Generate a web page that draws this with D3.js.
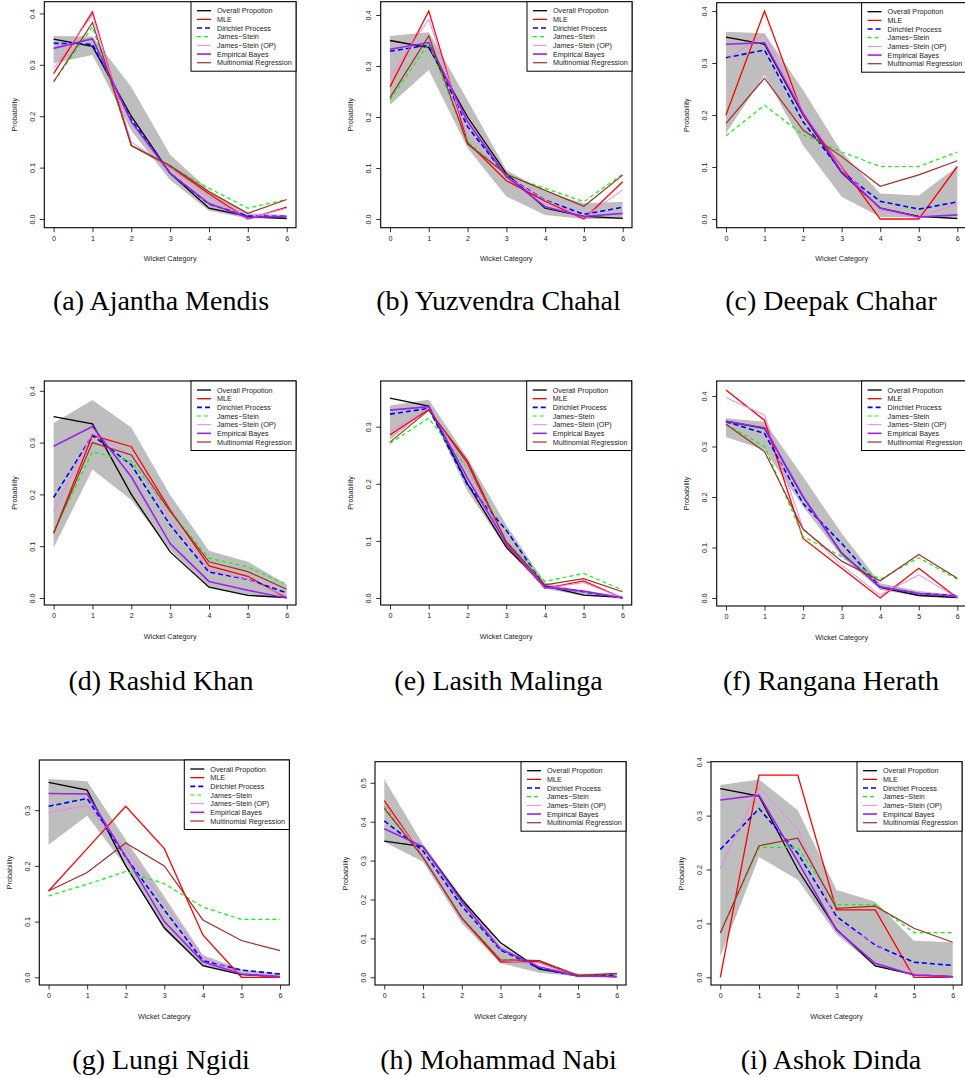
<!DOCTYPE html>
<html>
<head>
<meta charset="utf-8">
<script src="https://cdn.jsdelivr.net/npm/d3@7"></script>
<style>
  html, body { margin: 0; padding: 0; background: #fff; }
  svg { display: block; }
  text { font-family: "Liberation Sans", Arial, Helvetica, sans-serif; }
  .caption { font-family: "Liberation Serif", "Times New Roman", serif; }
</style>
</head>
<body>
<svg id="chart" width="965" height="1078"></svg>
<script>
// ---------------- data ----------------
const categories = [0, 1, 2, 3, 4, 5, 6];
const players = ["(a) Ajantha Mendis", "(b) Yuzvendra Chahal", "(c) Deepak Chahar",
                 "(d) Rashid Khan", "(e) Lasith Malinga", "(f) Rangana Herath",
                 "(g) Lungi Ngidi", "(h) Mohammad Nabi", "(i) Ashok Dinda"];
const seriesNames = ["Overall Propotion", "MLE", "Dirichlet Process", "James\u2212Stein",
                     "James\u2212Stein (OP)", "Empirical Bayes", "Multinomial Regression"];
const xTickLabels = ["0", "1", "2", "3", "4", "5", "6"];
const yTicks = [
  [0, 0.1, 0.2, 0.3, 0.4], [0, 0.1, 0.2, 0.3, 0.4], [0, 0.1, 0.2, 0.3, 0.4],
  [0, 0.1, 0.2, 0.3, 0.4], [0, 0.1, 0.2, 0.3], [0, 0.1, 0.2, 0.3, 0.4],
  [0, 0.1, 0.2, 0.3], [0, 0.1, 0.2, 0.3, 0.4, 0.5], [0, 0.1, 0.2, 0.3, 0.4]
];

const overall = [0.350, 0.336, 0.200, 0.089, 0.021, 0.005, 0.001];

const mle = [
  [0.283, 0.403, 0.143, 0.102, 0.049, 0.000, 0.023],
  [0.259, 0.408, 0.150, 0.075, 0.035, 0.000, 0.073],
  [0.200, 0.400, 0.200, 0.101, 0.000, 0.000, 0.101],
  [0.125, 0.314, 0.292, 0.170, 0.062, 0.042, 0.000],
  [0.286, 0.330, 0.236, 0.094, 0.017, 0.030, 0.000],
  [0.412, 0.352, 0.118, 0.059, 0.000, 0.059, 0.000],
  [0.155, 0.231, 0.307, 0.231, 0.076, 0.000, 0.000],
  [0.454, 0.310, 0.152, 0.040, 0.040, 0.002, 0.009],
  [0.000, 0.375, 0.375, 0.125, 0.125, 0.000, 0.000]
];
const dirichlet = [
  [0.342, 0.340, 0.193, 0.089, 0.029, 0.006, 0.005],
  [0.329, 0.341, 0.181, 0.084, 0.037, 0.009, 0.023],
  [0.310, 0.325, 0.187, 0.091, 0.034, 0.019, 0.033],
  [0.194, 0.314, 0.257, 0.141, 0.050, 0.036, 0.010],
  [0.322, 0.332, 0.198, 0.119, 0.020, 0.011, 0.000],
  [0.349, 0.326, 0.187, 0.108, 0.022, 0.009, 0.005],
  [0.307, 0.321, 0.216, 0.121, 0.030, 0.013, 0.006],
  [0.402, 0.325, 0.183, 0.070, 0.023, 0.003, 0.005],
  [0.237, 0.313, 0.230, 0.113, 0.060, 0.028, 0.022]
];
const jamesStein = [
  [0.267, 0.374, 0.144, 0.102, 0.060, 0.021, 0.038],
  [0.233, 0.344, 0.152, 0.086, 0.060, 0.034, 0.088],
  [0.160, 0.219, 0.162, 0.129, 0.101, 0.101, 0.129],
  [0.128, 0.282, 0.264, 0.167, 0.077, 0.060, 0.026],
  [0.271, 0.315, 0.227, 0.099, 0.029, 0.043, 0.014],
  [0.344, 0.300, 0.122, 0.082, 0.037, 0.080, 0.037],
  [0.146, 0.167, 0.190, 0.168, 0.126, 0.104, 0.104],
  [0.440, 0.306, 0.156, 0.045, 0.043, 0.005, 0.008],
  [0.082, 0.241, 0.241, 0.135, 0.135, 0.083, 0.083]
];
const jamesSteinOP = [
  [0.293, 0.397, 0.150, 0.099, 0.043, 0.001, 0.021],
  [0.279, 0.392, 0.161, 0.083, 0.037, 0.003, 0.057],
  [0.306, 0.355, 0.206, 0.101, 0.017, 0.003, 0.030],
  [0.167, 0.318, 0.276, 0.154, 0.054, 0.036, 0.003],
  [0.291, 0.333, 0.227, 0.096, 0.017, 0.027, 0.000],
  [0.397, 0.362, 0.138, 0.065, 0.006, 0.046, 0.000],
  [0.296, 0.308, 0.230, 0.133, 0.036, 0.006, 0.001],
  [0.447, 0.312, 0.156, 0.043, 0.036, 0.002, 0.002],
  [0.202, 0.352, 0.275, 0.103, 0.063, 0.006, 0.000]
];
const empiricalBayes = [
  [0.332, 0.351, 0.189, 0.089, 0.030, 0.003, 0.005],
  [0.333, 0.346, 0.191, 0.083, 0.024, 0.005, 0.011],
  [0.336, 0.339, 0.203, 0.091, 0.021, 0.004, 0.008],
  [0.293, 0.331, 0.234, 0.105, 0.032, 0.015, 0.000],
  [0.329, 0.335, 0.210, 0.096, 0.019, 0.012, 0.000],
  [0.350, 0.337, 0.201, 0.088, 0.022, 0.009, 0.003],
  [0.330, 0.329, 0.217, 0.100, 0.028, 0.006, 0.001],
  [0.382, 0.336, 0.194, 0.073, 0.027, 0.003, 0.002],
  [0.329, 0.338, 0.215, 0.088, 0.026, 0.004, 0.001]
];
const multinomial = [
  [0.267, 0.382, 0.143, 0.104, 0.053, 0.011, 0.038],
  [0.238, 0.359, 0.147, 0.088, 0.056, 0.025, 0.086],
  [0.184, 0.271, 0.171, 0.120, 0.063, 0.085, 0.112],
  [0.125, 0.300, 0.276, 0.167, 0.070, 0.051, 0.017],
  [0.273, 0.329, 0.240, 0.099, 0.023, 0.034, 0.011],
  [0.344, 0.290, 0.136, 0.073, 0.034, 0.086, 0.039],
  [0.155, 0.188, 0.241, 0.200, 0.103, 0.066, 0.048],
  [0.434, 0.308, 0.152, 0.045, 0.043, 0.005, 0.010],
  [0.082, 0.244, 0.258, 0.128, 0.132, 0.091, 0.065]
];
const bandLower = [
  [0.303, 0.319, 0.172, 0.076, 0.016, 0.001, 0.000],
  [0.224, 0.292, 0.139, 0.044, 0.008, 0.000, 0.000],
  [0.165, 0.277, 0.142, 0.043, 0.004, 0.003, 0.003],
  [0.097, 0.248, 0.189, 0.093, 0.021, 0.006, 0.000],
  [0.277, 0.331, 0.187, 0.087, 0.016, 0.004, 0.000],
  [0.319, 0.293, 0.181, 0.082, 0.016, 0.004, 0.000],
  [0.238, 0.290, 0.199, 0.085, 0.019, 0.004, 0.000],
  [0.348, 0.297, 0.139, 0.036, 0.012, 0.002, 0.000],
  [0.038, 0.223, 0.181, 0.080, 0.020, 0.004, 0.001]
];
const bandUpper = [
  [0.356, 0.355, 0.257, 0.125, 0.056, 0.011, 0.008],
  [0.359, 0.366, 0.233, 0.096, 0.054, 0.031, 0.034],
  [0.360, 0.357, 0.248, 0.129, 0.049, 0.045, 0.101],
  [0.338, 0.382, 0.329, 0.199, 0.091, 0.070, 0.026],
  [0.337, 0.347, 0.245, 0.128, 0.027, 0.012, 0.004],
  [0.356, 0.349, 0.240, 0.128, 0.029, 0.014, 0.006],
  [0.356, 0.352, 0.247, 0.145, 0.040, 0.014, 0.007],
  [0.509, 0.342, 0.207, 0.083, 0.027, 0.010, 0.009],
  [0.357, 0.367, 0.310, 0.162, 0.140, 0.068, 0.065]
];

// ---------------- layout & styles ----------------
// plot box [left, top, right, bottom] and y-limits of each panel
const layout = [
  { L: 44.3,  T: 1.7,   R: 296,   B: 227.7, ylo: -0.0169, yhi: 0.4228 },
  { L: 380.7, T: 1.7,   R: 632,   B: 227.7, ylo: -0.0171, yhi: 0.4261 },
  { L: 716.7, T: 2.7,   R: 966.6, B: 227.7, ylo: -0.0167, yhi: 0.4160 },
  { L: 44.3,  T: 381,   R: 296,   B: 605,   ylo: -0.0135, yhi: 0.4189 },
  { L: 380.7, T: 381,   R: 631.7, B: 605,   ylo: -0.0123, yhi: 0.3800 },
  { L: 716.7, T: 381,   R: 966.6, B: 606,   ylo: -0.0158, yhi: 0.4297 },
  { L: 39.3,  T: 760,   R: 289.3, B: 985,   ylo: -0.0138, yhi: 0.3901 },
  { L: 375,   T: 761.7, R: 626,   B: 985,   ylo: -0.0198, yhi: 0.5542 },
  { L: 711,   T: 761.7, R: 962,   B: 985,   ylo: -0.0143, yhi: 0.4000 }
];
const captionPos = [
  { x: 161, y: 310 }, { x: 498.5, y: 310 }, { x: 831, y: 310 },
  { x: 161, y: 689.5 }, { x: 498.5, y: 689.5 }, { x: 831, y: 689.5 },
  { x: 161, y: 1069.3 }, { x: 498.5, y: 1069.3 }, { x: 831, y: 1069.3 }
];
const styles = [
  { color: "#000000", width: 1.3, dash: null },
  { color: "#FF0000", width: 1.3, dash: null },
  { color: "#0000FF", width: 1.6, dash: "5,3" },
  { color: "#00FF00", width: 1.2, dash: "4,3" },
  { color: "#EE82EE", width: 1.0, dash: null },
  { color: "#A020F0", width: 1.6, dash: null },
  { color: "#A52A2A", width: 1.2, dash: null }
];
const FONT = 7.2;

// ---------------- drawing ----------------
const svg = d3.select("#chart");
svg.append("rect").attr("width", 965).attr("height", 1078).attr("fill", "#fff");

players.forEach((name, p) => {
  const lay = layout[p];
  const x = d3.scaleLinear().domain([-0.24, 6.24]).range([lay.L, lay.R]);
  const y = d3.scaleLinear().domain([lay.ylo, lay.yhi]).range([lay.B, lay.T]);
  const g = svg.append("g");

  // grey band
  const area = d3.area()
    .x((d, i) => x(categories[i]))
    .y0(d => y(d[0]))
    .y1(d => y(d[1]));
  const bandData = categories.map((c, i) => [bandLower[p][i], bandUpper[p][i]]);
  g.append("path").datum(bandData).attr("d", area).attr("fill", "#BEBEBE").attr("stroke", "none");

  // series
  const allSeries = [overall, mle[p], dirichlet[p], jamesStein[p], jamesSteinOP[p], empiricalBayes[p], multinomial[p]];
  const line = d3.line().x((d, i) => x(categories[i])).y(d => y(d));
  allSeries.forEach((vals, s) => {
    const st = styles[s];
    g.append("path").datum(vals).attr("d", line)
      .attr("fill", "none").attr("stroke", st.color).attr("stroke-width", st.width)
      .attr("stroke-dasharray", st.dash).attr("stroke-linejoin", "miter");
  });

  // box
  g.append("rect").attr("x", lay.L).attr("y", lay.T)
    .attr("width", lay.R - lay.L).attr("height", lay.B - lay.T)
    .attr("fill", "none").attr("stroke", "#000").attr("stroke-width", 1.1);

  // x axis
  const xAxis = d3.axisBottom(x).tickValues(categories).tickSize(4.5).tickPadding(3.5)
    .tickFormat((d, i) => xTickLabels[i]);
  const xa = g.append("g").attr("transform", `translate(0,${lay.B})`).call(xAxis);
  xa.select(".domain").remove();
  xa.selectAll("line").attr("stroke", "#000").attr("stroke-width", 0.8);
  xa.selectAll("text").attr("font-size", FONT).attr("fill", "#222")
    .attr("font-family", "Liberation Sans, Arial, sans-serif");

  // y axis
  const yAxis = d3.axisLeft(y).tickValues(yTicks[p]).tickSize(4.5).tickFormat(d3.format(".1f"));
  const ya = g.append("g").attr("transform", `translate(${lay.L},0)`).call(yAxis);
  ya.select(".domain").remove();
  ya.selectAll("line").attr("stroke", "#000").attr("stroke-width", 0.8);
  ya.selectAll("text")
    .attr("x", null).attr("dy", null)
    .attr("text-anchor", "middle")
    .attr("dominant-baseline", "central")
    .attr("transform", d => `translate(-12,${0}) rotate(-90)`)
    .attr("font-size", FONT).attr("fill", "#222")
    .attr("font-family", "Liberation Sans, Arial, sans-serif");

  // axis titles
  g.append("text").attr("x", (lay.L + lay.R) / 2).attr("y", lay.B + 31)
    .attr("text-anchor", "middle").attr("dominant-baseline", "central")
    .attr("font-size", FONT).attr("fill", "#222").text("Wicket Category");
  g.append("text")
    .attr("transform", `translate(${lay.L - 30},${(lay.T + lay.B) / 2}) rotate(-90)`)
    .attr("text-anchor", "middle").attr("dominant-baseline", "central")
    .attr("font-size", FONT).attr("fill", "#222").text("Probability");

  // legend
  const lw = 105, lh = 69.5;
  const lg = g.append("g").attr("transform", `translate(${lay.R - lw},${lay.T})`);
  lg.append("rect").attr("width", lw).attr("height", lh)
    .attr("fill", "#fff").attr("stroke", "#000").attr("stroke-width", 1);
  seriesNames.forEach((nm, s) => {
    const st = styles[s];
    const cy = 9 + s * 8.67;
    lg.append("line").attr("x1", 6).attr("x2", 20).attr("y1", cy).attr("y2", cy)
      .attr("stroke", st.color).attr("stroke-width", st.width)
      .attr("stroke-dasharray", st.dash);
    lg.append("text").attr("x", 26).attr("y", cy).attr("dominant-baseline", "central")
      .attr("font-size", FONT).attr("fill", "#222").text(nm);
  });

  // caption
  svg.append("text").attr("class", "caption")
    .attr("x", captionPos[p].x).attr("y", captionPos[p].y)
    .attr("text-anchor", "middle").attr("font-size", 28).attr("fill", "#000")
    .text(name);
});
</script>
</body>
</html>
